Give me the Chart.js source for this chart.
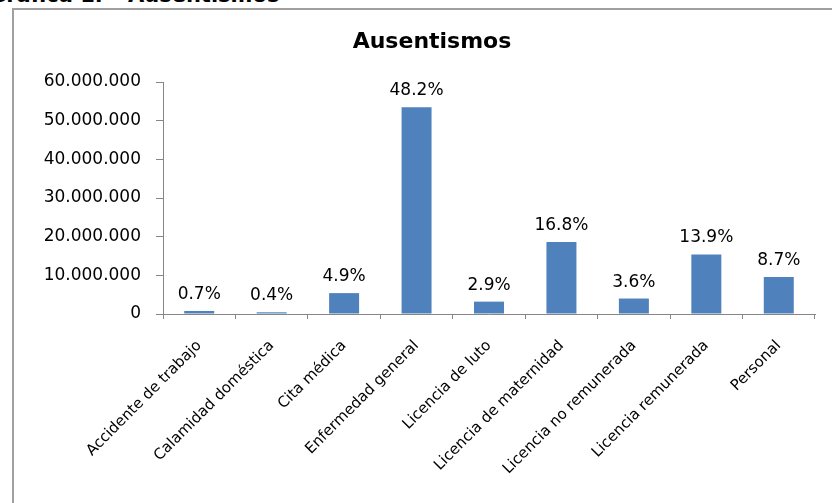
<!DOCTYPE html>
<html>
<head>
<meta charset="utf-8">
<script src="https://cdn.jsdelivr.net/npm/chart.js@4"></script>
<style>
  body { margin: 0; width: 832px; height: 503px; overflow: hidden; background: #fff; position: relative; }
  #encabezado { position: absolute; left: -11px; top: -15.5px; font: bold 21px "DejaVu Sans"; line-height: 21px; white-space: nowrap; color: #000; }
  #marco { position: absolute; left: 12px; top: 8px; width: 900px; height: 600px; border-left: 2px solid #a0a0a0; border-top: 2px solid #a0a0a0; }
  #caja { position: absolute; left: 14px; top: 10px; width: 836px; height: 493px; }
</style>
</head>
<body>
<div id="encabezado">Gráfica 1. – Ausentismos</div>
<div id="marco"></div>
<div id="caja"><canvas id="grafica"></canvas></div>
<script>
const categorias = ['Accidente de trabajo', 'Calamidad doméstica', 'Cita médica', 'Enfermedad general',
  'Licencia de luto', 'Licencia de maternidad', 'Licencia no remunerada', 'Licencia remunerada', 'Personal']
const valores = [780000, 440000, 5400000, 53500000, 3200000, 18600000, 4000000, 15400000, 9600000]
const porcentajes = ['0.7%', '0.4%', '4.9%', '48.2%', '2.9%', '16.8%', '3.6%', '13.9%', '8.7%']

function puntos(n){
  return String(n).replace(/\B(?=(\d{3})+(?!\d))/g, '.')
}

// porcentajes encima de cada barra
const etiquetas = {
  id: 'etiquetas',
  afterDatasetsDraw(chart){
    const ctx = chart.ctx
    const meta = chart.getDatasetMeta(0)
    ctx.save()
    ctx.font = '17px "DejaVu Sans"'
    ctx.fillStyle = '#000'
    ctx.textAlign = 'center'
    ctx.textBaseline = 'alphabetic'
    meta.data.forEach((bar, i) => {
      ctx.fillText(porcentajes[i], bar.x, bar.y - 12)
    })
    ctx.restore()
  }
}

const gris = '#868686'

new Chart(document.getElementById('grafica'), {
  type: 'bar',
  data: {
    labels: categorias,
    datasets: [{
      label: 'Ausentismos',
      data: valores,
      backgroundColor: '#4F81BD',
      borderWidth: 0,
      barPercentage: 0.414,
      categoryPercentage: 1
    }]
  },
  options: {
    responsive: true,
    maintainAspectRatio: false,
    animation: false,
    layout: { padding: 0 },
    plugins: {
      legend: { display: false },
      tooltip: { enabled: false },
      title: {
        display: true,
        text: 'Ausentismos',
        color: '#000',
        font: { family: 'DejaVu Sans', size: 22, weight: 'bold', lineHeight: 1.2 },
        padding: { top: 18.8, bottom: 26.8 }
      }
    },
    scales: {
      x: {
        grid: { display: true, drawOnChartArea: false, drawTicks: true, tickLength: 5, color: gris, offset: true },
        border: { display: true, color: gris, width: 1 },
        ticks: {
          color: '#000', maxRotation: 45, minRotation: 45, autoSkip: false, padding: 18,
          font: { family: 'DejaVu Sans', size: 15 }
        },
        afterFit: s => { s.height = 189 }
      },
      y: {
        min: 0,
        max: 60000000,
        grid: { display: true, drawOnChartArea: false, drawTicks: true, tickLength: 7, color: gris },
        border: { display: true, color: gris, width: 1 },
        ticks: {
          stepSize: 10000000, color: '#000', padding: 15,
          font: { family: 'DejaVu Sans', size: 17 },
          callback: v => puntos(v)
        },
        afterFit: s => { s.width = 149 }
      },
      derecha: {
        position: 'right',
        display: true,
        grid: { display: false },
        border: { display: false },
        ticks: { display: false },
        afterFit: s => { s.width = 35 }
      }
    }
  },
  plugins: [etiquetas]
})
</script>
</body>
</html>
